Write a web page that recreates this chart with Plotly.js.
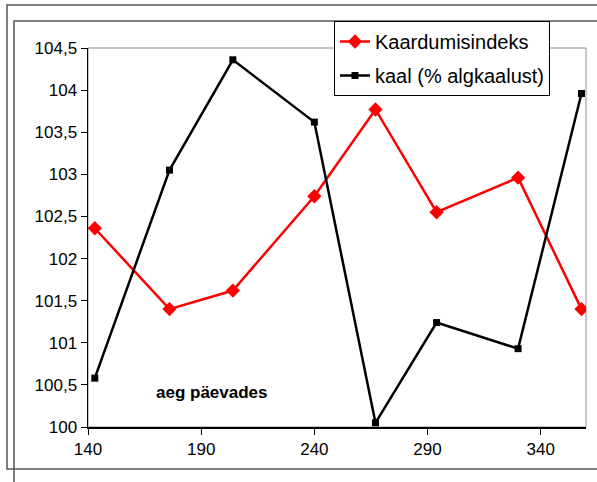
<!DOCTYPE html>
<html>
<head>
<meta charset="utf-8">
<script src="https://cdn.plot.ly/plotly-3.0.1.min.js"></script>
<style>
  html, body { margin: 0; padding: 0; background: #fff; }
  #chart { width: 597px; height: 482px; }
</style>
</head>
<body>
<div id="chart"></div>
<script>
// Measurement days
const days = [143, 176, 204, 240, 267, 294, 330, 358];
// Warping index
const kaardumisindeks = [102.36, 101.40, 101.62, 102.74, 103.77, 102.55, 102.96, 101.40];
// Weight as % of initial weight
const kaal = [100.58, 103.05, 104.36, 103.62, 100.05, 101.24, 100.93, 103.96];

const seriesNames = ['Kaardumisindeks', 'kaal (% algkaalust)'];
const xTitle = 'aeg päevades';

const traces = [
  {
    x: days, y: kaardumisindeks, name: seriesNames[0],
    type: 'scatter', mode: 'lines+markers',
    line: { color: '#ff0000', width: 2.5 },
    marker: { symbol: 'diamond', size: 11, color: '#ff0000' },
    legendgroup: 'a'
  },
  {
    x: days, y: kaal, name: seriesNames[1],
    type: 'scatter', mode: 'lines+markers',
    line: { color: '#000000', width: 2.5 },
    marker: { symbol: 'square', size: 7, color: '#000000' },
    legendgroup: 'b'
  }
];

// pixel -> paper helpers for the decorative frames
const L = 88, R = 586, T = 48, B = 427;
const px = v => (v - L) / (R - L);
const py = v => (B - v) / (B - T);

const layout = {
  width: 597, height: 482,
  margin: { l: L, r: 597 - R, t: T, b: 482 - B },
  paper_bgcolor: '#ffffff',
  plot_bgcolor: '#ffffff',
  separators: ', ',
  font: { family: 'Liberation Sans, Arial, sans-serif', size: 17, color: '#000' },
  showlegend: true,
  legend: {
    x: px(334), y: py(21), xanchor: 'left', yanchor: 'top',
    bgcolor: '#ffffff', bordercolor: '#000000', borderwidth: 1,
    font: { size: 20, color: '#000' },
    traceorder: 'grouped', tracegroupgap: 5
  },
  xaxis: {
    range: [140, 360], tick0: 140, dtick: 50,
    showgrid: false, zeroline: false,
    showline: true, linecolor: '#000', linewidth: 1.5,
    ticks: 'outside', ticklen: 6, tickcolor: '#000',
    tickfont: { size: 17, color: '#000' }
  },
  yaxis: {
    range: [100, 104.5], tick0: 100, dtick: 0.5,
    showgrid: false, zeroline: false,
    showline: true, linecolor: '#000', linewidth: 1.5,
    ticks: 'outside', ticklen: 6, tickcolor: '#000',
    tickfont: { size: 17, color: '#000' }
  },
  annotations: [
    {
      text: '<b>' + xTitle + '</b>', xref: 'paper', yref: 'paper',
      x: px(212), y: py(392), xanchor: 'center', yanchor: 'middle',
      showarrow: false, font: { size: 17, color: '#000' }
    }
  ],
  shapes: [
    // plot area border (top / right)
    { type: 'rect', xref: 'paper', yref: 'paper', x0: 0, y0: 0, x1: 1, y1: 1,
      line: { color: '#8c8c8c', width: 1 }, layer: 'below' },
    // outer chart frame
    { type: 'rect', xref: 'paper', yref: 'paper',
      x0: px(7), y0: py(469), x1: px(620), y1: py(5),
      line: { color: '#555555', width: 1.5 } },
    // inner chart frame
    { type: 'rect', xref: 'paper', yref: 'paper',
      x0: px(14), y0: py(520), x1: px(620), y1: py(21),
      line: { color: '#555555', width: 1.5 } }
  ]
};

Plotly.newPlot('chart', traces, layout, { displayModeBar: false, staticPlot: true });
</script>
</body>
</html>
